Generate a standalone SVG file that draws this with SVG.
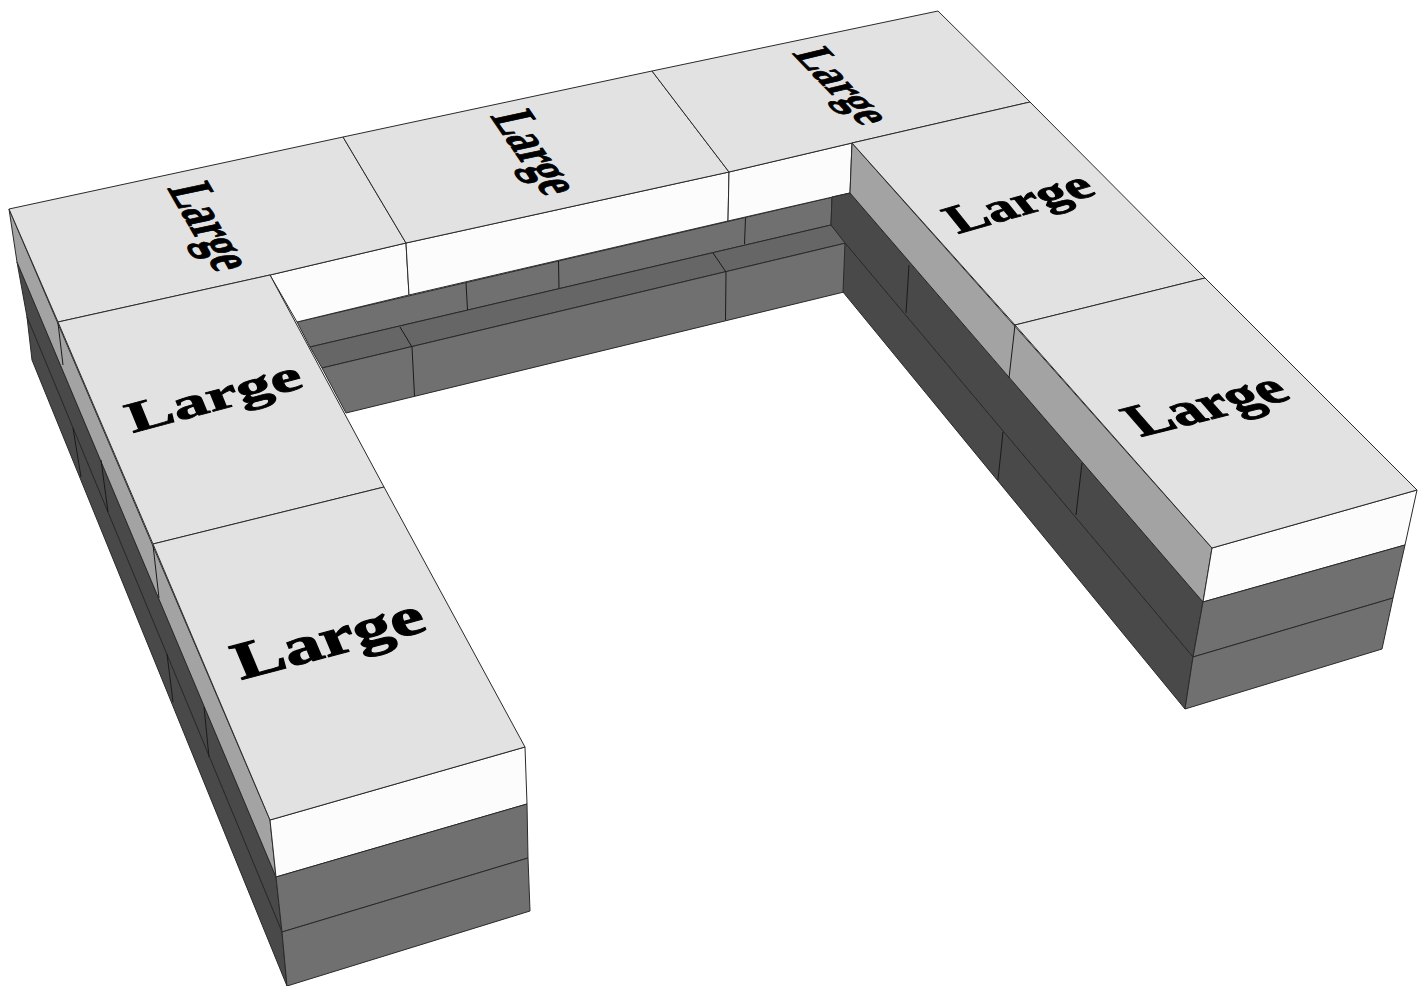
<svg xmlns="http://www.w3.org/2000/svg" width="1425" height="986" viewBox="0 0 1425 986">
<style>
path,polygon{stroke:#2a2a2a;stroke-width:1;stroke-linejoin:round}
.top{fill:#e2e2e2}.front{fill:#fcfcfc}.g{fill:#707070}.s{fill:#666}.l{fill:#a3a3a3}.d{fill:#494949}
.seam{fill:none;stroke:#1a1a1a}
text{font-family:"Liberation Serif","Times New Roman",serif;font-weight:700;font-size:100px;fill:#000;stroke:#000;stroke-width:2px}
</style>
<rect width="1425" height="986" fill="#fff"/>
<g id="inner-wall">
<polygon class="g" points="297,322 850,193 832,197 831,225 310,347"/>
<polygon class="s" points="310,347 831,225 846,243 322,368"/>
<polygon class="g" points="322,368 846,243 844,292 346,413"/>
<polygon class="front" points="270,275 406,243 409,295 297,322"/>
<polygon class="front" points="406,243 729,172 728,221 409,295"/>
<polygon class="front" points="729,172 852,143 850,193 728,221"/>
</g>
<g id="right-wall">
<polygon class="d" points="832,197 850,193 1203,602 1193,657 845,243 831,225"/>
<polygon class="d" points="845,243 1193,657 1185,709 843,292"/>
<polygon class="l" points="852,143 1212,548 1203,602 850,193"/>
<polygon class="front" points="1212,548 1417,490 1405,545 1203,602"/>
<polygon class="g" points="1203,602 1405,545 1393,598 1193,657"/>
<polygon class="g" points="1193,657 1393,598 1382,649 1185,709"/>
</g>
<g id="left-wall">
<polygon class="d" points="17,262 276,877 282,932 27,317"/>
<polygon class="d" points="27,317 282,932 287,986 32,360"/>
<polygon class="l" points="9,209 270,820 276,877 17,262"/>
<polygon class="front" points="270,820 525,747 527,804 276,877"/>
<polygon class="g" points="276,877 527,804 528,858 282,932"/>
<polygon class="g" points="282,932 528,858 530,911 287,986"/>
</g>
<g id="connectors">
<path class="seam" d="M466,283L467.500,310M558.500,261L559,288M745.500,218L744.500,244M400,327L412,347M713,253L726,272M412,347L414.500,396M726,272L725.500,320"/>
<path class="seam" d="M1015,325L1009,378M909,265L906,313M1082,463L1076,515M1003,432L998,480"/>
<path class="seam" d="M58,323L63,365M153,545L159,598M101,460L108,512M73,428L81,477M167,654L173,702M204,707L209,757"/>
</g>
<g id="block-1"><polygon class="top" points="9,209 343,137 406,243 270,275 58,322"/>
<text transform="matrix(.19 .33 -.6 .127 167.300 188.300)">Large</text></g>
<g id="block-2"><polygon class="top" points="343,137 652,71 729,172 406,243"/>
<text transform="matrix(.215 .315 -.58 .125 490 116)">Large</text></g>
<g id="block-3"><polygon class="top" points="652,71 938,11 1030,102 852,143 729,172"/>
<text transform="matrix(.275 .285 -.5 .12 791.700 53.300)">Large</text></g>
<g id="block-4"><polygon class="top" points="58,322 270,275 384,487 153,544"/>
<text transform="matrix(.676 -.18 .167 .41 132.700 433)">Large</text></g>
<g id="block-5"><polygon class="top" points="153,544 384,487 525,747 270,820"/>
<text transform="matrix(.736 -.195 .21 .5 241 680)">Large</text></g>
<g id="block-6"><polygon class="top" points="852,143 1030,102 1205,278 1015,325"/>
<text transform="matrix(.548 -.156 .29 .36 958 234)">Large</text></g>
<g id="block-7"><polygon class="top" points="1015,325 1205,278 1417,490 1212,548"/>
<text transform="matrix(.595 -.15 .36 .41 1141 437)">Large</text></g>
</svg>
